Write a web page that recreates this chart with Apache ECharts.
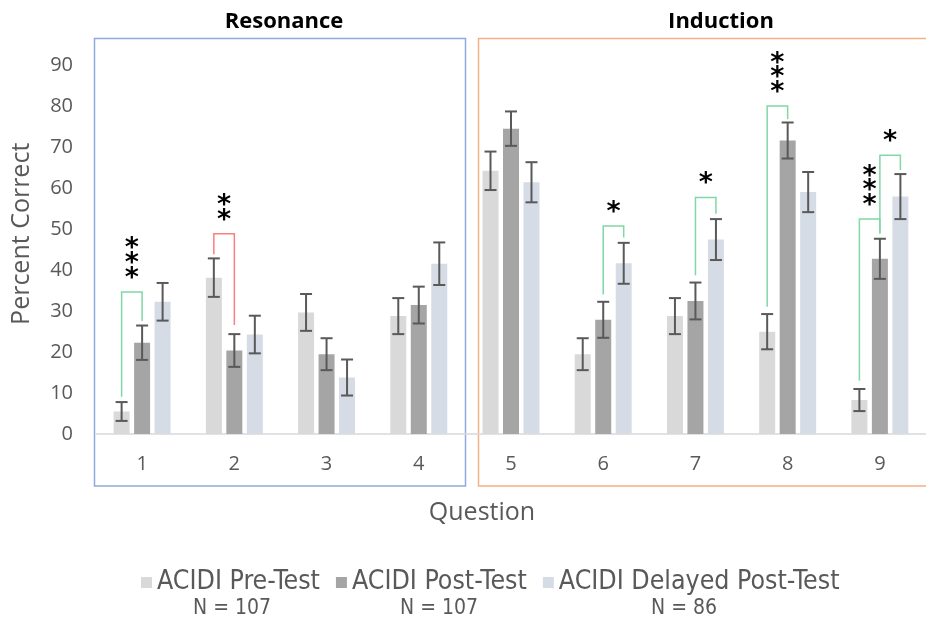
<!DOCTYPE html>
<html>
<head>
<meta charset="utf-8">
<script src="https://cdn.jsdelivr.net/npm/echarts@6/dist/echarts.min.js"></script>
<style>
  html, body { margin: 0; padding: 0; background: #ffffff; }
  #chart { width: 926px; height: 625px; }
</style>
</head>
<body>
<div id="chart"></div>
<script>
// ---------- data ----------
const categories = ['1', '2', '3', '4', '5', '6', '7', '8', '9'];
const seriesNames = ['ACIDI Pre-Test', 'ACIDI Post-Test', 'ACIDI Delayed Post-Test'];
const sampleSizes = ['N = 107', 'N = 107', 'N = 86'];
const preTest      = [5.5, 38.2, 29.7, 28.8, 64.3, 19.5, 28.8, 25.0, 8.3];
const postTest     = [22.3, 20.4, 19.5, 31.5, 74.6, 27.9, 32.5, 71.7, 42.8];
const delayedTest  = [32.3, 24.3, 13.8, 41.6, 61.5, 41.7, 47.5, 59.1, 58.0];
const preErr       = [2.3, 4.7, 4.5, 4.4, 4.7, 3.9, 4.4, 4.3, 2.7];
const postErr      = [4.2, 4.0, 3.9, 4.5, 4.2, 4.4, 4.5, 4.4, 4.9];
const delayedErr   = [4.6, 4.6, 4.4, 5.2, 4.9, 5.0, 5.0, 4.9, 5.5];
const groupTitles  = ['Resonance', 'Induction'];
// significance brackets: [category index, from series, to series, left leg bottom, top, right leg bottom, colour (0 green / 1 red), stars]
const brackets = [
  [0, 0, 1,  9.1, 34.7, 27.6, 0, 3],
  [1, 0, 1, 43.9, 48.9, 26.6, 1, 2],
  [5, 1, 2, 34.1, 50.8, 48.0, 0, 1],
  [6, 1, 2, 38.8, 57.8, 53.8, 0, 1],
  [7, 0, 1, 31.1, 80.1, 76.9, 0, 3],
  [8, 0, 1, 13.0, 52.5, 49.0, 0, 3],
  [8, 1, 2, 49.0, 68.1, 64.5, 0, 1]
];

// ---------- style ----------
const BAR_W = 16;
const BAR_STEP = 20.5;
const COLORS = ['#D9D9D9', '#A5A5A5', '#D6DCE5'];
const BRACKET_COLORS = ['#7FD8A6', '#FF7C80'];
const TEXT = '#595959';
const FONT = 'Open Sans';
const LEGEND_FONT = 'DejaVu Sans Condensed';

const values = [preTest, postTest, delayedTest];
const errs = [preErr, postErr, delayedErr];

const errData = [];
values.forEach((arr, s) => {
  arr.forEach((v, i) => errData.push([i, s, v - errs[s][i], v + errs[s][i]]));
});

const chart = echarts.init(document.getElementById('chart'), null, { renderer: 'canvas' });

const option = {
  animation: false,
  backgroundColor: '#ffffff',
  title: [
    { text: groupTitles[0], left: 279, top: 6, textAlign: 'center',
      textStyle: { fontFamily: FONT, fontWeight: 'bold', fontSize: 22, color: '#000' } },
    { text: groupTitles[1], left: 716, top: 6, textAlign: 'center',
      textStyle: { fontFamily: FONT, fontWeight: 'bold', fontSize: 22, color: '#000' } }
  ],
  grid: { left: 96, top: 65.6, width: 832, bottom: 191, containLabel: false },
  legend: {
    data: seriesNames,
    left: 136, top: 564,
    icon: 'rect', itemWidth: 11, itemHeight: 11, itemGap: 16,
    textStyle: { fontFamily: LEGEND_FONT, fontSize: 26.5, color: TEXT }
  },
  xAxis: {
    type: 'category',
    data: categories,
    name: 'Question',
    nameLocation: 'middle',
    nameGap: 66,
    nameTextStyle: { fontFamily: FONT, fontSize: 25, color: TEXT, padding: [0, 58, 0, 0] },
    axisLine: { lineStyle: { color: '#D9D9D9', width: 1.5 } },
    axisTick: { show: false },
    axisLabel: { margin: 20, fontFamily: FONT, fontSize: 20, color: TEXT }
  },
  yAxis: {
    type: 'value',
    min: 0, max: 90, interval: 10,
    name: 'Percent Correct',
    nameLocation: 'middle',
    nameGap: 62,
    nameTextStyle: { fontFamily: FONT, fontSize: 25, color: TEXT, padding: [0, 0, 0, 32] },
    axisLine: { show: false },
    axisTick: { show: false },
    splitLine: { show: false },
    axisLabel: { margin: 23, fontFamily: FONT, fontSize: 20, color: TEXT }
  },
  series: [
    ...seriesNames.map((name, s) => ({
      name: name,
      type: 'bar',
      data: values[s],
      barWidth: BAR_W,
      barGap: '28%',
      itemStyle: { color: COLORS[s] },
      z: 2
    })),
    {
      name: 'error',
      type: 'custom',
      data: errData,
      z: 5,
      encode: { x: 0, y: [2, 3] },
      renderItem: function (params, api) {
        const cat = api.value(0), s = api.value(1);
        const lo = api.coord([cat, api.value(2)]);
        const hi = api.coord([cat, api.value(3)]);
        const x = lo[0] + (s - 1) * BAR_STEP;
        const st = { stroke: '#595959', lineWidth: 2 };
        return {
          type: 'group',
          children: [
            { type: 'line', shape: { x1: x, y1: lo[1], x2: x, y2: hi[1] }, style: st },
            { type: 'line', shape: { x1: x - 6, y1: lo[1], x2: x + 6, y2: lo[1] }, style: st },
            { type: 'line', shape: { x1: x - 6, y1: hi[1], x2: x + 6, y2: hi[1] }, style: st }
          ]
        };
      }
    },
    {
      name: 'significance',
      type: 'custom',
      data: brackets,
      z: 6,
      clip: false,
      encode: { x: 0, y: 4 },
      renderItem: function (params, api) {
        const cat = api.value(0), a = api.value(1), b = api.value(2);
        const c = api.coord([cat, 0]);
        const x1 = c[0] + (a - 1) * BAR_STEP;
        const x2 = c[0] + (b - 1) * BAR_STEP;
        const yl = api.coord([cat, api.value(3)])[1];
        const yt = api.coord([cat, api.value(4)])[1];
        const yr = api.coord([cat, api.value(5)])[1];
        const color = BRACKET_COLORS[api.value(6)];
        const n = api.value(7);
        const children = [{
          type: 'polyline',
          shape: { points: [[x1, yl], [x1, yt], [x2, yt], [x2, yr]] },
          style: { stroke: color, lineWidth: 1.5, fill: null }
        }];
        const xm = (x1 + x2) / 2;
        for (let k = 0; k < n; k++) {
          children.push({
            type: 'text',
            style: {
              text: '*', x: xm, y: yt - 19 - k * 14.8 + 6,
              fill: '#000', font: 'bold 27px "DejaVu Sans"',
              textAlign: 'center', textVerticalAlign: 'middle'
            }
          });
        }
        return { type: 'group', children: children };
      }
    }
  ],
  graphic: [
    { type: 'rect', z: 0, silent: true,
      shape: { x: 94.5, y: 38.5, width: 371, height: 447.5 },
      style: { fill: null, stroke: '#8FAADC', lineWidth: 1.5 } },
    { type: 'rect', z: 0, silent: true,
      shape: { x: 478.5, y: 38.5, width: 480, height: 447.5 },
      style: { fill: null, stroke: '#F4B183', lineWidth: 1.5 } },
    { type: 'text', left: 233 - 40, top: 598,
      style: { text: sampleSizes[0], font: '21px "' + LEGEND_FONT + '"', fill: TEXT } },
    { type: 'text', left: 440 - 40, top: 598,
      style: { text: sampleSizes[1], font: '21px "' + LEGEND_FONT + '"', fill: TEXT } },
    { type: 'text', left: 684 - 33, top: 598,
      style: { text: sampleSizes[2], font: '21px "' + LEGEND_FONT + '"', fill: TEXT } }
  ]
};

chart.setOption(option);
</script>
</body>
</html>
